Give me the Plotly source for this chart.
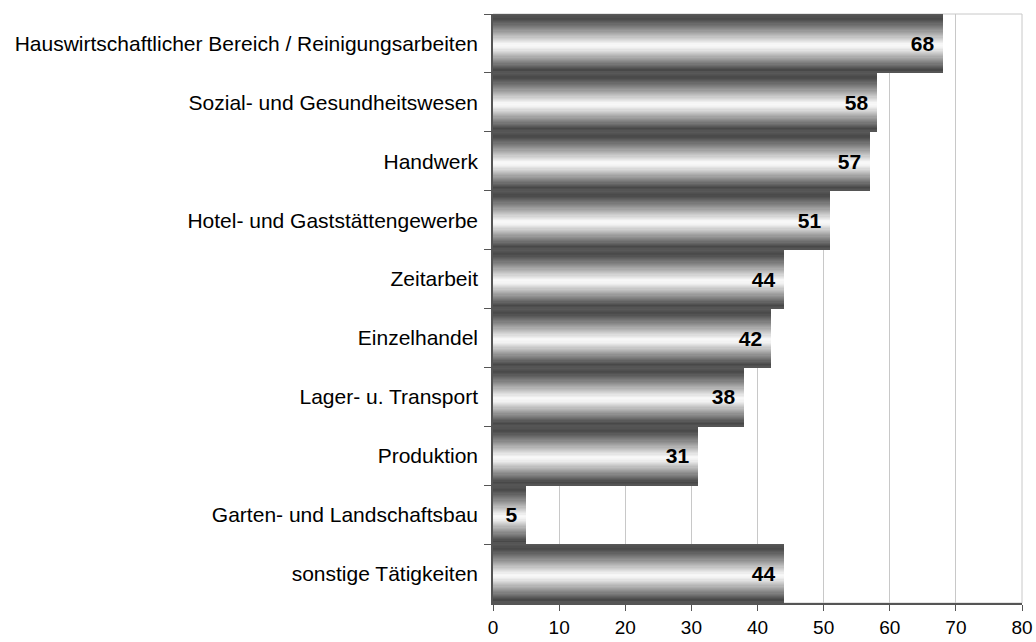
import plotly.graph_objects as go

# data
categories = [
    "Hauswirtschaftlicher Bereich / Reinigungsarbeiten",
    "Sozial- und Gesundheitswesen",
    "Handwerk",
    "Hotel- und Gaststättengewerbe",
    "Zeitarbeit",
    "Einzelhandel",
    "Lager- u. Transport",
    "Produktion",
    "Garten- und Landschaftsbau",
    "sonstige Tätigkeiten",
]
values = [68, 58, 57, 51, 44, 42, 38, 31, 5, 44]
x_ticks = [0, 10, 20, 30, 40, 50, 60, 70, 80]

# metallic shading of each bar: (position from top of band, grey level)
shade_stops = [
    (0.00, 0x5a), (0.08, 0x48), (0.25, 0x88), (0.42, 0xd0),
    (0.52, 0xfa), (0.58, 0xf0), (0.72, 0xb0), (0.88, 0x68),
    (0.95, 0x48), (1.00, 0x58),
]


def grey_at(t):
    for (t0, g0), (t1, g1) in zip(shade_stops, shade_stops[1:]):
        if t0 <= t <= t1:
            g = g0 + (g1 - g0) * (t - t0) / (t1 - t0)
            g = int(round(g))
            return f"rgb({g},{g},{g})"
    return "rgb(80,80,80)"


fig = go.Figure()

n_strips = 50
for i in range(n_strips):
    start = i / n_strips
    # each strip reaches to the bottom of the band; later strips cover earlier
    fig.add_trace(go.Bar(
        x=values, y=categories, orientation="h",
        width=1 - start, offset=-0.5 + start,
        marker=dict(color=grey_at(start + 0.5 / n_strips), line=dict(width=0)),
        hoverinfo="skip", showlegend=False,
    ))

# value labels
fig.add_trace(go.Bar(
    x=values, y=categories, orientation="h",
    width=1, offset=-0.5,
    marker=dict(color="rgba(0,0,0,0)", line=dict(width=0)),
    text=[f"<b>{v}</b>&nbsp;" for v in values],
    textposition="inside", insidetextanchor="end",
    textfont=dict(family="Liberation Sans, Arial", size=21, color="black"),
    textangle=0,
    hoverinfo="skip", showlegend=False,
))

fig.update_layout(
    width=1036, height=642,
    barmode="overlay",
    bargap=0,
    plot_bgcolor="white", paper_bgcolor="white",
    margin=dict(l=493, r=14, t=14, b=39),
    font=dict(family="Liberation Sans, Arial", color="black"),
    uniformtext=dict(mode=False),
    shapes=[dict(
        type="rect", xref="paper", yref="paper", x0=0, x1=1, y0=0, y1=1,
        line=dict(color="#c8c8c8", width=1), layer="below",
    )],
)
fig.update_xaxes(
    range=[0, 80], tickvals=x_ticks,
    showgrid=True, gridcolor="#c8c8c8", gridwidth=1,
    showline=True, linecolor="#555555", linewidth=1.5,
    ticks="outside", ticklen=6, tickcolor="#555555",
    tickfont=dict(size=19, color="black"),
    zeroline=False, automargin=False,
)
fig.update_yaxes(
    categoryorder="array", categoryarray=categories,
    autorange="reversed",
    showgrid=False,
    showline=True, linecolor="#555555", linewidth=1.5,
    ticks="outside", ticklen=7, tickcolor="#555555", tickson="boundaries",
    tickfont=dict(size=21, color="black"),
    ticklabelstandoff=9,
    automargin=False,
)

# drop the browser's default page margin so the figure fills the window
fig.write_html(
    "out.html",
    config={"displayModeBar": False},
    post_script="document.body.style.margin='0';",
)
